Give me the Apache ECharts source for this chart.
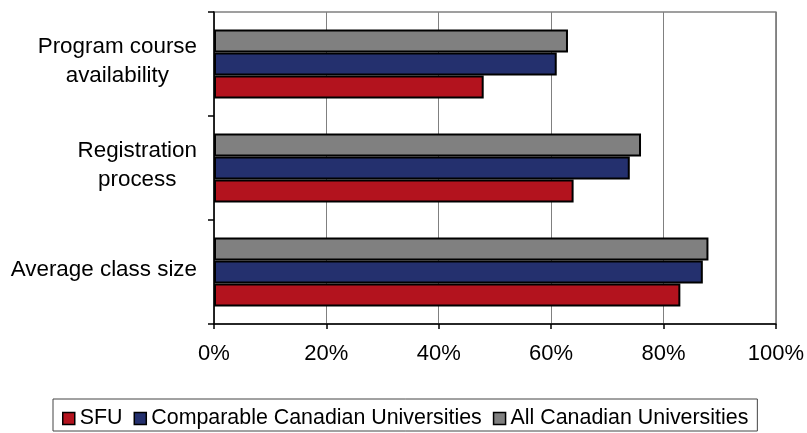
<!DOCTYPE html>
<html>
<head>
<meta charset="utf-8">
<script src="https://cdn.jsdelivr.net/npm/echarts@6/dist/echarts.min.js"></script>
<style>
  html, body { margin: 0; padding: 0; background: #ffffff; }
  #chart { width: 807px; height: 433px; }
</style>
</head>
<body>
<div id="chart"></div>
<script>
// Survey items, listed bottom to top as they appear on the category axis
const categories = ['Average class size', 'Registration\nprocess', 'Program course\navailability'];
const seriesNames = ['SFU', 'Comparable Canadian Universities', 'All Canadian Universities'];
// Percent satisfied, one array per group, in category order
const sfuValues = [83, 64, 48];
const comparableValues = [87, 74, 61];
const allCanadianValues = [88, 76, 63];
const valueTicks = [0, 20, 40, 60, 80, 100];

const FONT = '"Liberation Sans", Arial, sans-serif';
const colors = ['#B3131E', '#24306E', '#808080'];

const chart = echarts.init(document.getElementById('chart'), null, { renderer: 'canvas' });

function barSeries(name, data, color) {
  return {
    name: name,
    type: 'bar',
    data: data,
    barWidth: 23,
    barGap: '0%',
    itemStyle: { color: color, borderColor: '#000000', borderWidth: 2 }
  };
}

chart.setOption({
  backgroundColor: '#ffffff',
  animation: false,
  grid: {
    left: 214, right: 27, top: 12, bottom: 109,
    show: true, borderColor: '#808080', borderWidth: 1.5,
    containLabel: false
  },
  xAxis: {
    type: 'value',
    min: valueTicks[0],
    max: valueTicks[valueTicks.length - 1],
    interval: valueTicks[1] - valueTicks[0],
    axisLine: { show: true, lineStyle: { color: '#000000', width: 1.5 } },
    axisTick: { show: true, length: 5, lineStyle: { color: '#000000', width: 1.5 } },
    splitLine: { show: true, lineStyle: { color: '#808080', width: 1 } },
    axisLabel: {
      margin: 19,
      formatter: '{value}%',
      color: '#000000',
      fontFamily: FONT,
      fontSize: 22
    }
  },
  yAxis: {
    type: 'category',
    data: categories,
    axisLine: { show: true, lineStyle: { color: '#000000', width: 1.5 } },
    axisTick: { show: true, length: 6, lineStyle: { color: '#000000', width: 1.5 } },
    splitLine: { show: false },
    axisLabel: {
      margin: 17,
      padding: [0, 0, 5, 0],
      formatter: function (v) {
        return v.split('\n').map(function (line) { return '{c|' + line + '}'; }).join('\n');
      },
      rich: {
        c: {
          align: 'center',
          color: '#000000',
          fontFamily: FONT,
          fontSize: 22.4,
          lineHeight: 28.5
        }
      }
    }
  },
  legend: {
    data: seriesNames,
    left: 53,
    top: 399,
    orient: 'horizontal',
    icon: 'rect',
    itemWidth: 12,
    itemHeight: 12,
    itemGap: 11,
    padding: [9, 9, 2, 9],
    borderColor: '#444444',
    borderWidth: 1,
    backgroundColor: '#ffffff',
    itemStyle: { borderColor: '#000000', borderWidth: 1.5 },
    textStyle: { color: '#000000', fontFamily: FONT, fontSize: 21.4 }
  },
  // The last-listed group sits lowest in each band, so the stacking order runs top to bottom
  series: [
    barSeries(seriesNames[2], allCanadianValues, colors[2]),
    barSeries(seriesNames[1], comparableValues, colors[1]),
    barSeries(seriesNames[0], sfuValues, colors[0])
  ]
});
</script>
</body>
</html>
